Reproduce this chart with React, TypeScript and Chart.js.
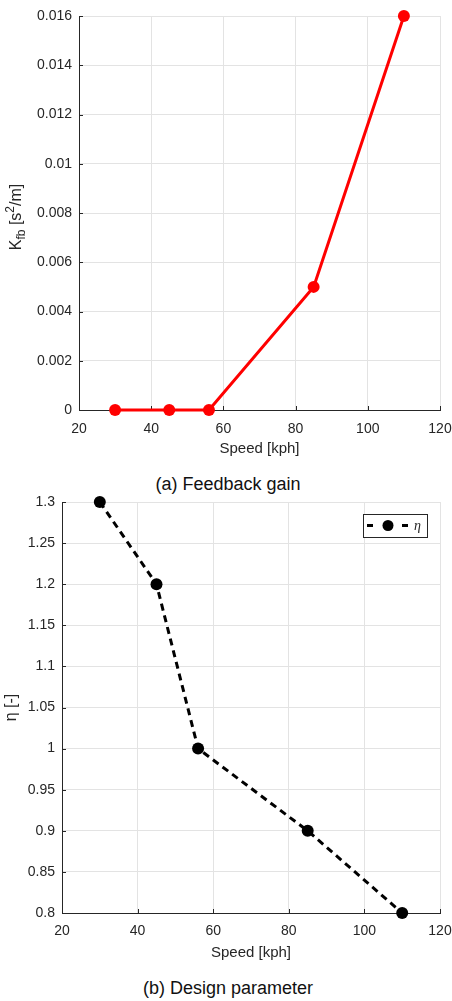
import React, { useEffect, useRef } from "react";
import { Chart, registerables } from "chart.js";

Chart.register(...registerables);

// Speed breakpoints shared by both plots
const speeds = [30, 45, 56, 85, 110];
// Feedback gain K_fb [s^2/m] at each speed
const gainValues = [0, 0, 0, 0.005, 0.016];
// Design parameter eta [-] at each speed
const etaValues = [1.3, 1.2, 1.0, 0.9, 0.8];

const speedTicks = [20, 40, 60, 80, 100, 120];
const gainTicks = [0, 0.002, 0.004, 0.006, 0.008, 0.01, 0.012, 0.014, 0.016];
const etaTicks = [0.8, 0.85, 0.9, 0.95, 1, 1.05, 1.1, 1.15, 1.2, 1.25, 1.3];

const xTitle = "Speed [kph]";
const captionA = "(a) Feedback gain";
const captionB = "(b) Design parameter";
const etaLabel = "η";

const FONT = "'Liberation Sans', Arial, Helvetica, sans-serif";
const TEXT = "#262626";
const GRID = "#e3e3e3";

type Part = { text: string; mode: "normal" | "sub" | "sup" };

const gainTitle: Part[] = [
  { text: "K", mode: "normal" },
  { text: "fb", mode: "sub" },
  { text: " [s", mode: "normal" },
  { text: "2", mode: "sup" },
  { text: "/m]", mode: "normal" },
];
const etaTitle: Part[] = [
  { text: "η", mode: "normal" },
  { text: " [-]", mode: "normal" },
];

// Rotated y-axis title with sub/superscript support
function yTitlePlugin(id: string, parts: Part[], baselineX: number, shiftY: number) {
  return {
    id,
    afterDraw(chart: any) {
      const { ctx, chartArea } = chart;
      const cy = (chartArea.top + chartArea.bottom) / 2 + shiftY;
      const fontFor = (m: string) => (m === "normal" ? `16px ${FONT}` : `12px ${FONT}`);
      ctx.save();
      let total = 0;
      const widths = parts.map((p) => {
        ctx.font = fontFor(p.mode);
        const w = ctx.measureText(p.text).width;
        total += w;
        return w;
      });
      ctx.translate(baselineX, cy);
      ctx.rotate(-Math.PI / 2);
      ctx.fillStyle = TEXT;
      ctx.textBaseline = "alphabetic";
      ctx.textAlign = "left";
      let x = -total / 2;
      parts.forEach((p, i) => {
        ctx.font = fontFor(p.mode);
        const dy = p.mode === "sub" ? 4 : p.mode === "sup" ? -7 : 0;
        ctx.fillText(p.text, x, dy);
        x += widths[i];
      });
      ctx.restore();
    },
  };
}

// Short inward tick marks on the left and bottom axes
const inwardTicks = {
  id: "inwardTicks",
  beforeDatasetsDraw(chart: any) {
    const { ctx, chartArea, scales } = chart;
    ctx.save();
    ctx.strokeStyle = TEXT;
    ctx.lineWidth = 1;
    ctx.beginPath();
    scales.x.ticks.forEach((t: any) => {
      const px = Math.round(scales.x.getPixelForValue(t.value)) + 0.5;
      ctx.moveTo(px, chartArea.bottom);
      ctx.lineTo(px, chartArea.bottom - 4);
    });
    scales.y.ticks.forEach((t: any) => {
      const py = Math.round(scales.y.getPixelForValue(t.value)) + 0.5;
      ctx.moveTo(chartArea.left, py);
      ctx.lineTo(chartArea.left + 4, py);
    });
    ctx.stroke();
    ctx.restore();
  },
};

// Boxed legend in the upper-right corner
const boxLegend = {
  id: "boxLegend",
  afterDraw(chart: any) {
    const { ctx, chartArea } = chart;
    const ds = chart.data.datasets[0];
    const w = 64;
    const h = 23;
    const left = chartArea.right - 13 - w;
    const top = chartArea.top + 12;
    const cy = top + h / 2;
    ctx.save();
    ctx.fillStyle = "#ffffff";
    ctx.fillRect(left, top, w, h);
    ctx.strokeStyle = TEXT;
    ctx.lineWidth = 1;
    ctx.strokeRect(left + 0.5, top + 0.5, w, h);
    ctx.strokeStyle = ds.borderColor;
    ctx.lineWidth = ds.borderWidth;
    ctx.beginPath();
    ctx.moveTo(left + 4, cy);
    ctx.lineTo(left + 10, cy);
    ctx.moveTo(left + 39, cy);
    ctx.lineTo(left + 45, cy);
    ctx.stroke();
    ctx.fillStyle = ds.pointBackgroundColor;
    ctx.beginPath();
    ctx.arc(left + 25, cy, ds.pointRadius - 0.5, 0, Math.PI * 2);
    ctx.fill();
    ctx.fillStyle = TEXT;
    ctx.font = "italic 14px 'Liberation Serif', 'DejaVu Serif', serif";
    ctx.textBaseline = "alphabetic";
    ctx.textAlign = "left";
    ctx.fillText(ds.label, left + 51, cy + 4);
    ctx.restore();
  },
};

function makeX(height: number, labelPad: number, titlePad: number) {
  return {
    type: "linear" as const,
    min: 20,
    max: 120,
    afterBuildTicks: (s: any) => {
      s.ticks = speedTicks.map((v) => ({ value: v }));
    },
    afterFit: (s: any) => {
      s.height = height;
      s.paddingLeft = 0;
      s.paddingRight = 0;
    },
    grid: { color: GRID, drawTicks: false, lineWidth: 1 },
    border: { color: TEXT, width: 1 },
    ticks: {
      padding: labelPad,
      color: TEXT,
      font: { family: FONT, size: 14 },
      maxRotation: 0,
      autoSkip: false,
      callback: (v: any) => String(v),
    },
    title: {
      display: true,
      text: xTitle,
      color: TEXT,
      font: { family: FONT, size: 15 },
      padding: { top: 0, bottom: titlePad },
    },
  };
}

function makeY(min: number, max: number, tickVals: number[], width: number, digits: number) {
  return {
    type: "linear" as const,
    min,
    max,
    afterBuildTicks: (s: any) => {
      s.ticks = tickVals.map((v) => ({ value: v }));
    },
    afterFit: (s: any) => {
      s.width = width;
      s.paddingTop = 0;
      s.paddingBottom = 0;
    },
    grid: { color: GRID, drawTicks: false, lineWidth: 1 },
    border: { color: TEXT, width: 1 },
    ticks: {
      padding: 7,
      color: TEXT,
      font: { family: FONT, size: 14 },
      autoSkip: false,
      callback: (v: any) => String(Number(Number(v).toFixed(digits))),
    },
  };
}

export default function App() {
  const topRef = useRef<HTMLCanvasElement>(null);
  const botRef = useRef<HTMLCanvasElement>(null);

  useEffect(() => {
    const top = new Chart(topRef.current as HTMLCanvasElement, {
      type: "line",
      data: {
        datasets: [
          {
            label: "K_fb",
            data: speeds.map((s, i) => ({ x: s, y: gainValues[i] })),
            borderColor: "#ff0000",
            backgroundColor: "#ff0000",
            pointBackgroundColor: "#ff0000",
            borderWidth: 3,
            pointRadius: 6,
            pointBorderWidth: 0,
            tension: 0,
            clip: false as any,
          },
        ],
      },
      options: {
        responsive: false,
        animation: false,
        devicePixelRatio: 1,
        layout: { padding: { top: 16, right: 12, left: 0, bottom: 0 } },
        plugins: { legend: { display: false }, tooltip: { enabled: false } },
        scales: {
          x: makeX(52, 11, 4) as any,
          y: makeY(0, 0.016, gainTicks, 79, 3) as any,
        },
      },
      plugins: [inwardTicks, yTitlePlugin("yTitleTop", gainTitle, 21, 4)],
    });

    const bot = new Chart(botRef.current as HTMLCanvasElement, {
      type: "line",
      data: {
        datasets: [
          {
            label: etaLabel,
            data: speeds.map((s, i) => ({ x: s, y: etaValues[i] })),
            borderColor: "#000000",
            backgroundColor: "#000000",
            pointBackgroundColor: "#000000",
            borderWidth: 3,
            borderDash: [7, 5],
            pointRadius: 6,
            pointBorderWidth: 0,
            tension: 0,
            clip: false as any,
          },
        ],
      },
      options: {
        responsive: false,
        animation: false,
        devicePixelRatio: 1,
        layout: { padding: { top: 12, right: 12, left: 0, bottom: 0 } },
        plugins: { legend: { display: false }, tooltip: { enabled: false } },
        scales: {
          x: makeX(52, 10, 3) as any,
          y: makeY(0.8, 1.3, etaTicks, 62, 2) as any,
        },
      },
      plugins: [inwardTicks, yTitlePlugin("yTitleBot", etaTitle, 16, 0), boxLegend],
    });

    return () => {
      top.destroy();
      bot.destroy();
    };
  }, []);

  const caption: React.CSSProperties = {
    position: "absolute",
    left: 0,
    width: 456,
    textAlign: "center",
    fontFamily: FONT,
    fontSize: 18,
    lineHeight: "20px",
    color: "#111",
  };

  return (
    <div style={{ position: "absolute", left: 0, top: 0, width: 452, height: 1001, background: "#fff" }}>
      <canvas ref={topRef} width={452} height={462} style={{ position: "absolute", left: 0, top: 0 }} />
      <div style={{ ...caption, top: 474 }}>{captionA}</div>
      <canvas ref={botRef} width={452} height={475} style={{ position: "absolute", left: 0, top: 490 }} />
      <div style={{ ...caption, top: 978 }}>{captionB}</div>
    </div>
  );
}
